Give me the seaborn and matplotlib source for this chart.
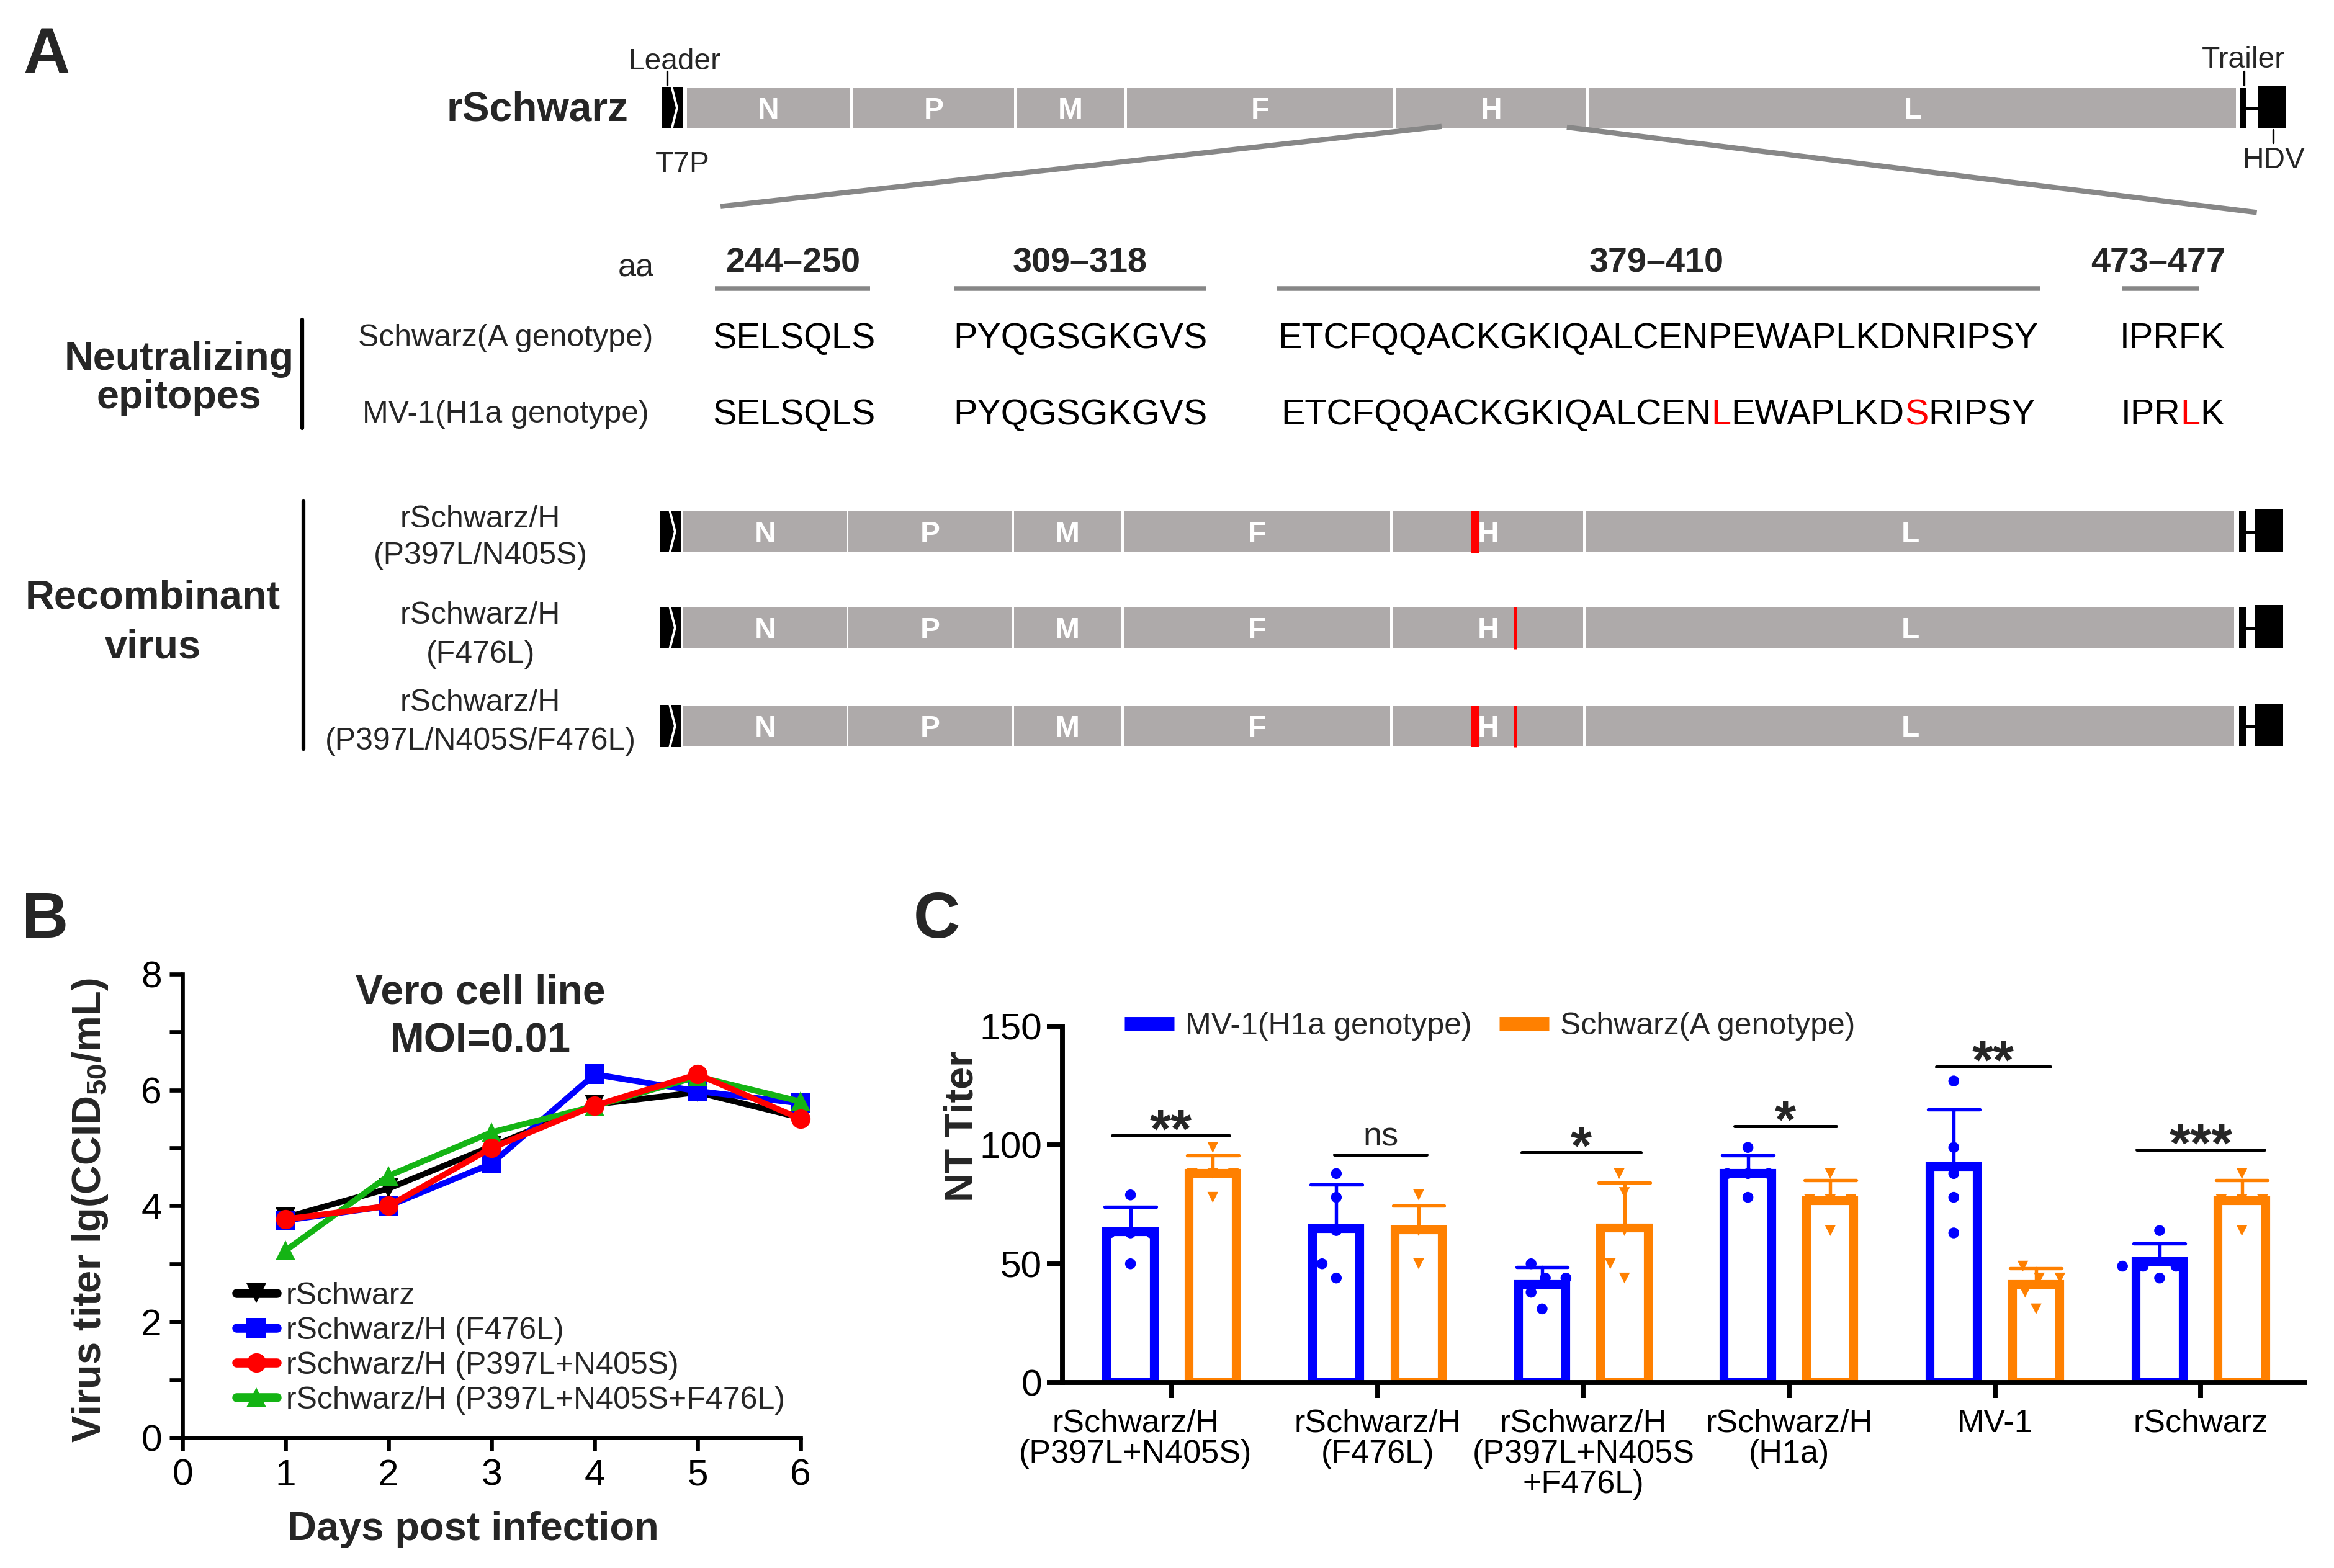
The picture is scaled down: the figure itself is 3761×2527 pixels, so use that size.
import numpy as np
import pandas as pd
import matplotlib
matplotlib.use("Agg")
import matplotlib.pyplot as plt
import matplotlib.transforms as mtransforms
from matplotlib.patches import Rectangle
from matplotlib.lines import Line2D
import seaborn as sns

# ---------------------------------------------------------------- data
genes = ["N", "P", "M", "F", "H", "L"]
epitope_ranges = ["244–250", "309–318", "379–410", "473–477"]
seq_schwarz = ["SELSQLS", "PYQGSGKGVS", "ETCFQQACKGKIQALCENPEWAPLKDNRIPSY", "IPRFK"]
seq_mv1 = ["SELSQLS", "PYQGSGKGVS", "ETCFQQACKGKIQALCENLEWAPLKDSRIPSY", "IPRLK"]
epitope_rows = ["Schwarz(A genotype)", "MV-1(H1a genotype)"]
recombinants = [["rSchwarz/H", "(P397L/N405S)"],
                ["rSchwarz/H", "(F476L)"],
                ["rSchwarz/H", "(P397L/N405S/F476L)"]]
recomb_mutations = [["P397L/N405S"], ["F476L"], ["P397L/N405S", "F476L"]]

days = [1, 2, 3, 4, 5, 6]
growth_labels = ["rSchwarz", "rSchwarz/H (F476L)", "rSchwarz/H (P397L+N405S)",
                 "rSchwarz/H (P397L+N405S+F476L)"]
titer_rschwarz = [3.80, 4.30, 5.03, 5.75, 5.96, 5.52]
titer_f476l = [3.75, 4.00, 4.73, 6.27, 5.98, 5.77]
titer_p397l_n405s = [3.77, 4.00, 5.00, 5.73, 6.27, 5.50]
titer_triple = [3.23, 4.52, 5.27, 5.72, 6.23, 5.80]

nt_groups = ["rSchwarz/H\n(P397L+N405S)", "rSchwarz/H\n(F476L)",
             "rSchwarz/H\n(P397L+N405S\n+F476L)", "rSchwarz/H\n(H1a)", "MV-1", "rSchwarz"]
nt_sera = ["MV-1(H1a genotype)", "Schwarz(A genotype)"]
nt_mv1 = [[79, 63, 63, 63, 50], [88, 78, 64, 50, 44], [50, 44, 44, 38, 31],
          [99, 88, 88, 88, 78], [127, 99, 88, 78, 63], [64, 49, 49, 49, 44]]
nt_schwarz = [[99, 88, 88, 88, 78], [79, 64, 64, 64, 50], [88, 80, 64, 50, 44],
              [88, 77, 77, 77, 64], [49, 44, 44, 38, 31], [88, 77, 77, 77, 64]]
sig_labels = ["**", "ns", "*", "*", "**", "***"]
sig_heights = [104, 96, 97, 108, 133, 98]

# ---------------------------------------------------------------- style
sns.set_theme(style="ticks")
plt.rcParams["font.family"] = ["Liberation Sans", "DejaVu Sans"]
plt.rcParams["mathtext.fontset"] = "custom"
plt.rcParams["mathtext.rm"] = "Liberation Sans"
plt.rcParams["mathtext.bf"] = "Liberation Sans:bold"
plt.rcParams["mathtext.it"] = "Liberation Sans:italic"
plt.rcParams["axes.unicode_minus"] = False

W, H, DPI = 3762, 2527, 300
fig = plt.figure(figsize=(W / DPI, H / DPI), dpi=DPI)
fig.patch.set_facecolor("white")

UX, UY = 1560.0, 1048.0          # layout units for the overlay
ax0 = fig.add_axes([0, 0, 1, 1])
ax0.set_xlim(0, UX)
ax0.set_ylim(UY, 0)
ax0.axis("off")


def frac(x0, y0, x1, y1):
    return [x0 / UX, 1 - y1 / UY, (x1 - x0) / UX, (y1 - y0) / UY]


GENE_GRAY = "#aeaaaa"
LINE_GRAY = "#878787"
RED = "#ff0000"

# ---------------------------------------------------------------- panel A
def draw_genome(y0, y1, bounds, leader, tbar, tbox, muts=()):
    mid = (y0 + y1) / 2
    for g, (a, b) in zip(genes, bounds):
        ax0.add_patch(Rectangle((a, y0), b - a, y1 - y0, facecolor=GENE_GRAY,
                                edgecolor="none", zorder=2))
        ax0.text((a + b) / 2, mid, g, color="white", fontsize=11.5,
                 fontweight="bold", ha="center", va="center_baseline", zorder=3)
    la, lb = leader
    ax0.add_patch(Rectangle((la, y0 - 0.5), lb - la, y1 - y0 + 1,
                            facecolor="black", edgecolor="none", zorder=2))
    ax0.plot([la + (lb - la) * 0.47, la + (lb - la) * 0.72, la + (lb - la) * 0.47],
             [y0 - 0.5, mid, y1 + 0.5], color="white", lw=0.9, zorder=3)
    ta, tb = tbar
    ax0.add_patch(Rectangle((ta, y0), tb - ta, y1 - y0, facecolor="black",
                            edgecolor="none", zorder=2))
    ba, bb = tbox
    ax0.add_patch(Rectangle((ba, y0 - 1.5), bb - ba, y1 - y0 + 1.5,
                            facecolor="black", edgecolor="none", zorder=2))
    ax0.plot([tb, ba], [mid, mid], color="black", lw=1.2, zorder=2)
    mut_style = {"P397L/N405S": (985.5, 2.9), "F476L": (1012.5, 1.2)}
    for m in muts:
        xm, lw = mut_style[m]
        ax0.plot([xm, xm], [y0 - 0.3, y1 + 0.8], color=RED, lw=lw,
                 solid_capstyle="butt", zorder=4)


top_bounds = [(459, 568), (570, 677.5), (679.6, 751), (753, 930.6), (933, 1060), (1062, 1494)]
draw_genome(58.8, 85.4, top_bounds, (442.5, 456.2), (1496.5, 1501), (1508.6, 1527.3))
ax0.text(419.7, 80.5, "rSchwarz", fontsize=15.8, fontweight="bold", ha="right", va="baseline")
ax0.text(450.8, 39, "Leader", fontsize=11.5, ha="center", va="center_baseline")
ax0.plot([445.8, 445.8], [47.7, 57], color="black", lw=0.8)
ax0.text(455.9, 108, "T7P", fontsize=11.5, ha="center", va="center_baseline")
ax0.text(1499, 38, "Trailer", fontsize=11.5, ha="center", va="center_baseline")
ax0.plot([1499.5, 1499.5], [47.7, 57], color="black", lw=0.8)
ax0.text(1519, 105, "HDV", fontsize=11.5, ha="center", va="center_baseline")
ax0.plot([1519, 1519], [86.5, 95.4], color="black", lw=0.8)
ax0.plot([481.5, 963.3], [138, 84.5], color=LINE_GRAY, lw=2.0, solid_capstyle="butt")
ax0.plot([1047, 1508], [85.0, 142], color=LINE_GRAY, lw=2.0, solid_capstyle="butt")

# epitope table
head_x = [530, 721.8, 1107, 1442]
under = [(477.5, 581.5), (637.5, 806), (853, 1363), (1418, 1469)]
seq_x = [530.5, 721.8, 1108, 1451.5]
ax0.text(425, 177, "aa", fontsize=12.5, ha="center", va="center_baseline")
for hx, lab, (ua, ub) in zip(head_x, epitope_ranges, under):
    ax0.text(hx, 173.5, lab, fontsize=13.4, fontweight="bold", ha="center",
             va="center_baseline")
    ax0.plot([ua, ub], [192.8, 192.8], color=LINE_GRAY, lw=1.8, solid_capstyle="butt")

renderer = fig.canvas.get_renderer()
px_per_unit = fig.bbox.width / UX


def colored_seq(xc, y, s, ref, fs):
    tmp = ax0.text(0, y, s, fontsize=fs, ha="left", va="center_baseline")
    total = tmp.get_window_extent(renderer).width / px_per_unit
    tmp.remove()
    runs = []
    for ch, rc in zip(s, ref):
        red = ch != rc
        if runs and runs[-1][1] == red:
            runs[-1][0] += ch
        else:
            runs.append([ch, red])
    x = xc - total / 2
    for txt, red in runs:
        t = ax0.text(x, y, txt, fontsize=fs, ha="left", va="center_baseline",
                     color=RED if red else "black")
        x += t.get_window_extent(renderer).width / px_per_unit


row_y = [224, 275]
for ry, lab in zip(row_y, epitope_rows):
    ax0.text(338, ry, lab, fontsize=12, ha="center", va="center_baseline")
for sx, s1, s2 in zip(seq_x, seq_schwarz, seq_mv1):
    colored_seq(sx, row_y[0], s1, s1, 13.8)
    colored_seq(sx, row_y[1], s2, s1, 13.8)
ax0.text(119.5, 237.5, "Neutralizing", fontsize=15.5, fontweight="bold", ha="center",
         va="center_baseline")
ax0.text(119.5, 263, "epitopes", fontsize=15.5, fontweight="bold", ha="center",
         va="center_baseline")
ax0.plot([202, 202], [213.6, 286], color="black", lw=1.5)

# recombinant viruses
rec_bounds = [(456.4, 566), (567, 676), (677.6, 749), (751, 929), (930.6, 1058), (1060, 1493)]
rec_rows = [(341.8, 368.8), (406, 433), (471.7, 498.7)]
rec_lab_y = [(345, 369.5), (409.5, 435.5), (468, 493.5)]
for (y0, y1), labs, muts, (ly1, ly2) in zip(rec_rows, recombinants, recomb_mutations, rec_lab_y):
    draw_genome(y0, y1, rec_bounds, (441, 455), (1496, 1500.5), (1506.5, 1525.6), muts)
    ax0.text(321, ly1, labs[0], fontsize=12, ha="center", va="center_baseline")
    ax0.text(321, ly2, labs[1], fontsize=12, ha="center", va="center_baseline")
ax0.text(102, 397, "Recombinant", fontsize=15.6, fontweight="bold", ha="center",
         va="center_baseline")
ax0.text(102, 430, "virus", fontsize=15.6, fontweight="bold", ha="center",
         va="center_baseline")
ax0.plot([202.6, 202.6], [334.5, 500.6], color="black", lw=1.5)

# panel letters
for lx, ly, L in [(31, 33, "A"), (30, 611, "B"), (626, 611, "C")]:
    ax0.text(lx, ly, L, fontsize=25, fontweight="bold", ha="center", va="center_baseline")

# ---------------------------------------------------------------- panel B
ax_b = fig.add_axes(frac(122, 651, 535, 961))
df_growth = pd.DataFrame({
    "day": days * 4,
    "titer": titer_rschwarz + titer_f476l + titer_p397l_n405s + titer_triple,
    "virus": np.repeat(growth_labels, len(days)),
})
growth_colors = ["#000000", "#0000ff", "#ff0000", "#14b414"]
growth_markers = ["v", "s", "o", "^"]
sns.lineplot(data=df_growth, x="day", y="titer", hue="virus", style="virus",
             hue_order=growth_labels, style_order=growth_labels,
             palette=dict(zip(growth_labels, growth_colors)),
             markers=dict(zip(growth_labels, growth_markers)), dashes=False,
             errorbar=None, linewidth=2.3, markersize=7.5, markeredgewidth=0,
             legend=False, ax=ax_b)
for ln, z in zip(ax_b.lines, [2.1, 2.2, 2.4, 2.3]):
    ln.set_zorder(z)
    ln.set_clip_on(False)
ax_b.set_xlim(0, 6)
ax_b.set_ylim(0, 8)
ax_b.set_xticks(range(7))
ax_b.set_yticks([0, 2, 4, 6, 8])
ax_b.set_yticks([1, 3, 5, 7], minor=True)
ax_b.tick_params(which="both", direction="out", length=5, width=1.6, labelsize=14.5,
                 pad=3, color="black", labelcolor="black")
sns.despine(ax=ax_b)
for s in ["left", "bottom"]:
    ax_b.spines[s].set_linewidth(1.6)
    ax_b.spines[s].set_color("black")
ax_b.set_xlabel("Days post infection", fontsize=15.6, fontweight="bold")
ax_b.xaxis.set_label_coords(0.47, -0.158)
ax_b.set_ylabel(r"Virus titer lg(CCID$_{\mathregular{50}}$/mL)", fontsize=15.6,
                fontweight="bold")
ax_b.yaxis.set_label_coords(-0.118, 0.49)
ax_b.text(0.482, 0.968, "Vero cell line", transform=ax_b.transAxes, fontsize=15.8,
          fontweight="bold", ha="center", va="center_baseline")
ax_b.text(0.482, 0.864, "MOI=0.01", transform=ax_b.transAxes, fontsize=15.8,
          fontweight="bold", ha="center", va="center_baseline")
b_handles = [Line2D([], [], color=c, marker=m, lw=3.5, markersize=7.5, markeredgewidth=0)
             for c, m in zip(growth_colors, growth_markers)]
ax_b.legend(b_handles, growth_labels, loc="lower left", bbox_to_anchor=(0.087, 0.05),
            frameon=False, fontsize=12, handlelength=1.3, handletextpad=0.3,
            labelspacing=0.2, borderaxespad=0, borderpad=0)

# ---------------------------------------------------------------- panel C
ax_c = fig.add_axes(frac(710, 686, 1540, 924))
rows = []
for g, a, b in zip(nt_groups, nt_mv1, nt_schwarz):
    rows += [(g, nt_sera[0], v) for v in a]
    rows += [(g, nt_sera[1], v) for v in b]
df_nt = pd.DataFrame(rows, columns=["group", "serum", "titer"])
nt_colors = ["#0000ff", "#ff8000"]
nt_pal = dict(zip(nt_sera, nt_colors))
for serum, col, mk in zip(nt_sera, nt_colors, ["o", "v"]):
    sub = df_nt[df_nt["serum"] == serum]
    sns.barplot(data=sub, x="group", y="titer", hue="serum", hue_order=nt_sera,
                order=nt_groups, palette=nt_pal, dodge=True, width=0.8, gap=0.425,
                fill=False, linewidth=3.4, errorbar="sd", capsize=0.5,
                err_kws={"color": col, "linewidth": 1.3}, legend=False, ax=ax_c)
for p in ax_c.patches:
    p.set_facecolor("white")
    p.set_zorder(2.5)
for serum, col, mk in zip(nt_sera, nt_colors, ["o", "v"]):
    sub = df_nt[df_nt["serum"] == serum]
    sns.swarmplot(data=sub, x="group", y="titer", hue="serum", hue_order=nt_sera,
                  order=nt_groups, palette=nt_pal, dodge=True, marker=mk, size=4.2,
                  linewidth=3.4, edgecolor=(1, 1, 1, 0), legend=False, ax=ax_c, zorder=4)

sig_span = [(-0.29, 0.28), (-0.21, 0.24), (-0.30, 0.28), (-0.265, 0.23),
            (-0.285, 0.27), (-0.31, 0.31)]
for i, (lab, h, (l, r)) in enumerate(zip(sig_labels, sig_heights, sig_span)):
    ax_c.plot([i + l, i + r], [h, h], color="black", lw=1.2, clip_on=False, zorder=5)
    xc = i + (l + r) / 2
    if lab == "ns":
        ax_c.text(xc, h + 0.8, lab, fontsize=13, ha="center", va="bottom")
    else:
        ax_c.text(xc, h - 4.8, lab, fontsize=21, fontweight="bold", ha="center",
                  va="baseline")

ax_c.set_xlim(-0.53, 5.505)
ax_c.set_ylim(0, 150)
ax_c.set_yticks([0, 50, 100, 150])
ax_c.set_xticks(range(len(nt_groups)))
ax_c.set_xticklabels(nt_groups, fontsize=12.5, linespacing=1.0)
ax_c.tick_params(axis="y", direction="out", length=6, width=1.9, labelsize=14.5, pad=2,
                 color="black", labelcolor="black")
ax_c.tick_params(axis="x", direction="out", length=6, width=1.9, pad=4,
                 color="black", labelcolor="black")
sns.despine(ax=ax_c)
for s in ["left", "bottom"]:
    ax_c.spines[s].set_linewidth(1.9)
    ax_c.spines[s].set_color("black")
ax_c.set_xlabel("")
ax_c.set_ylabel("NT Titer", fontsize=15.5, fontweight="bold")
ax_c.yaxis.set_label_coords(-0.066, 0.7185)
# GraphPad-like shift of the first (long) category label
first_lab = ax_c.get_xticklabels()[0]
first_lab.set_transform(first_lab.get_transform() +
                        mtransforms.ScaledTranslation(-14 / 72, 0, fig.dpi_scale_trans))
c_handles = [Line2D([], [], color=c, lw=5.5, solid_capstyle="butt") for c in nt_colors]
ax_c.legend(c_handles, nt_sera, loc="center left", bbox_to_anchor=(0.05, 1.0), ncol=2,
            frameon=False, fontsize=12, handlelength=1.6, handletextpad=0.35,
            columnspacing=0.9, borderaxespad=0, borderpad=0)

fig.savefig("out.png", dpi=DPI, facecolor="white")
